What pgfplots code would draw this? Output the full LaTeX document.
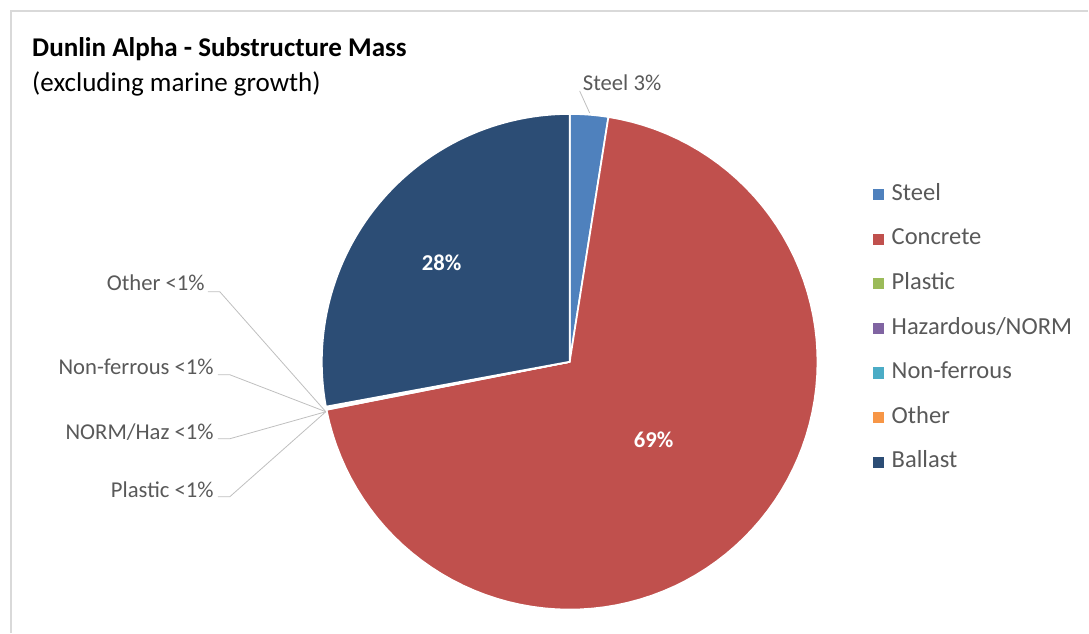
\documentclass[border=0pt]{standalone}
\usepackage{pgfplots}
\usepackage{pgfplotstable}
\pgfplotsset{compat=1.18}
\usepackage{fontspec}
\setmainfont{Carlito}
\definecolor{c0}{HTML}{4F81BD}
\definecolor{c1}{HTML}{C0504D}
\definecolor{c2}{HTML}{9BBB59}
\definecolor{c3}{HTML}{8064A2}
\definecolor{c4}{HTML}{4BACC6}
\definecolor{c5}{HTML}{F79646}
\definecolor{c6}{HTML}{2C4D75}
\definecolor{txt}{HTML}{595959}
\definecolor{lead}{HTML}{BFBFBF}
\definecolor{frame}{HTML}{D9D9D9}
\pgfplotstableread{
label value
Steel 2.5
Concrete 69.4
Plastic 0.05
Hazardous/NORM 0.05
Non-ferrous 0.05
Other 0.05
Ballast 27.9
}\piedata
\newcommand\lbl{\fontsize{17}{20}\selectfont}
\newcommand\leg{\fontsize{18.4}{22}\selectfont}
\begin{document}
\begin{tikzpicture}
\xdef\cumangle{0}
\foreach \i/\L in {0/A,1/B,2/C,3/D,4/E,5/F,6/G}{%
  \pgfplotstablegetelem{\i}{value}\of\piedata
  \pgfmathsetmacro\a{\cumangle}%
  \pgfmathsetmacro\b{\cumangle+3.6*\pgfplotsretval}%
  \expandafter\xdef\csname sa\L\endcsname{\a}%
  \expandafter\xdef\csname sb\L\endcsname{\b}%
  \xdef\cumangle{\b}%
}
\begin{axis}[
  scale only axis, width=816.75pt, height=474.75pt,
  xmin=0, xmax=1089, ymin=-633, ymax=0,
  hide axis, clip=false,
  legend style={at={(axis cs:873,-182)}, anchor=north west, draw=none, fill=none,
    inner sep=0pt, row sep=15pt, font=\leg, text=txt,
    nodes={text height=13.5pt, text depth=5pt, inner ysep=0pt, inner xsep=3pt}},
  legend cell align=left,
  legend image code/.code={\fill[#1,draw=none] (0pt,-4.2pt) rectangle (8.4pt,4.2pt); \path (10.6pt,0pt);},
  every axis plot/.append style={draw=white, line width=1.3pt, samples=90, variable=\t},
]
\path (rel axis cs:0,0) rectangle (rel axis cs:1,1);
\addplot[fill=c0, domain=\saA:\sbA] ({570+248*sin(\t)},{-362+248*cos(\t)}) -- (axis cs:570,-362) -- cycle;
\addplot[fill=c1, domain=\saB:\sbB] ({570+248*sin(\t)},{-362+248*cos(\t)}) -- (axis cs:570,-362) -- cycle;
\addplot[fill=c2, domain=\saC:\sbC] ({570+248*sin(\t)},{-362+248*cos(\t)}) -- (axis cs:570,-362) -- cycle;
\addplot[fill=c3, domain=\saD:\sbD] ({570+248*sin(\t)},{-362+248*cos(\t)}) -- (axis cs:570,-362) -- cycle;
\addplot[fill=c4, domain=\saE:\sbE] ({570+248*sin(\t)},{-362+248*cos(\t)}) -- (axis cs:570,-362) -- cycle;
\addplot[fill=c5, domain=\saF:\sbF] ({570+248*sin(\t)},{-362+248*cos(\t)}) -- (axis cs:570,-362) -- cycle;
\addplot[fill=c6, domain=\saG:\sbG] ({570+248*sin(\t)},{-362+248*cos(\t)}) -- (axis cs:570,-362) -- cycle;
\legend{Steel,Concrete,Plastic,Hazardous/NORM,Non-ferrous,Other,Ballast}
% frame
\draw[frame, line width=1pt] (axis cs:11,-633) -- (axis cs:11,-11) -- (axis cs:1089,-11);
% leader lines
\addplot[lead, line width=0.6pt, forget plot] coordinates {(208,-292) (220,-292) (326,-412)};
\addplot[lead, line width=0.6pt, forget plot] coordinates {(218,-375) (230,-375) (326,-412)};
\addplot[lead, line width=0.6pt, forget plot] coordinates {(218,-439) (230,-439) (326,-412)};
\addplot[lead, line width=0.6pt, forget plot] coordinates {(218,-497) (230,-497) (326,-412)};
\addplot[lead, line width=0.6pt, forget plot] coordinates {(580,-91) (590,-113)};
% titles
\node[anchor=base west, inner sep=0pt, font=\fontsize{20.3}{24}\selectfont\bfseries] at (axis cs:32,-57) {Dunlin Alpha - Substructure Mass};
\node[anchor=base west, inner sep=0pt, font=\fontsize{20.3}{24}\selectfont] at (axis cs:32,-92) {(excluding marine growth)};
% data labels
\node[anchor=base west, inner sep=0pt, font=\lbl, text=txt] at (axis cs:583,-91) {Steel 3\%};
\node[anchor=base, inner sep=0pt, font=\lbl\bfseries, text=white] at (axis cs:442,-271) {28\%};
\node[anchor=base, inner sep=0pt, font=\lbl\bfseries, text=white] at (axis cs:654,-448) {69\%};
\node[anchor=base east, inner sep=0pt, font=\lbl, text=txt] at (axis cs:205,-291) {Other <1\%};
\node[anchor=base east, inner sep=0pt, font=\lbl, text=txt] at (axis cs:214,-375) {Non-ferrous <1\%};
\node[anchor=base east, inner sep=0pt, font=\lbl, text=txt] at (axis cs:214,-440) {NORM/Haz <1\%};
\node[anchor=base east, inner sep=0pt, font=\lbl, text=txt] at (axis cs:214,-498) {Plastic <1\%};
\end{axis}
\end{tikzpicture}
\end{document}
